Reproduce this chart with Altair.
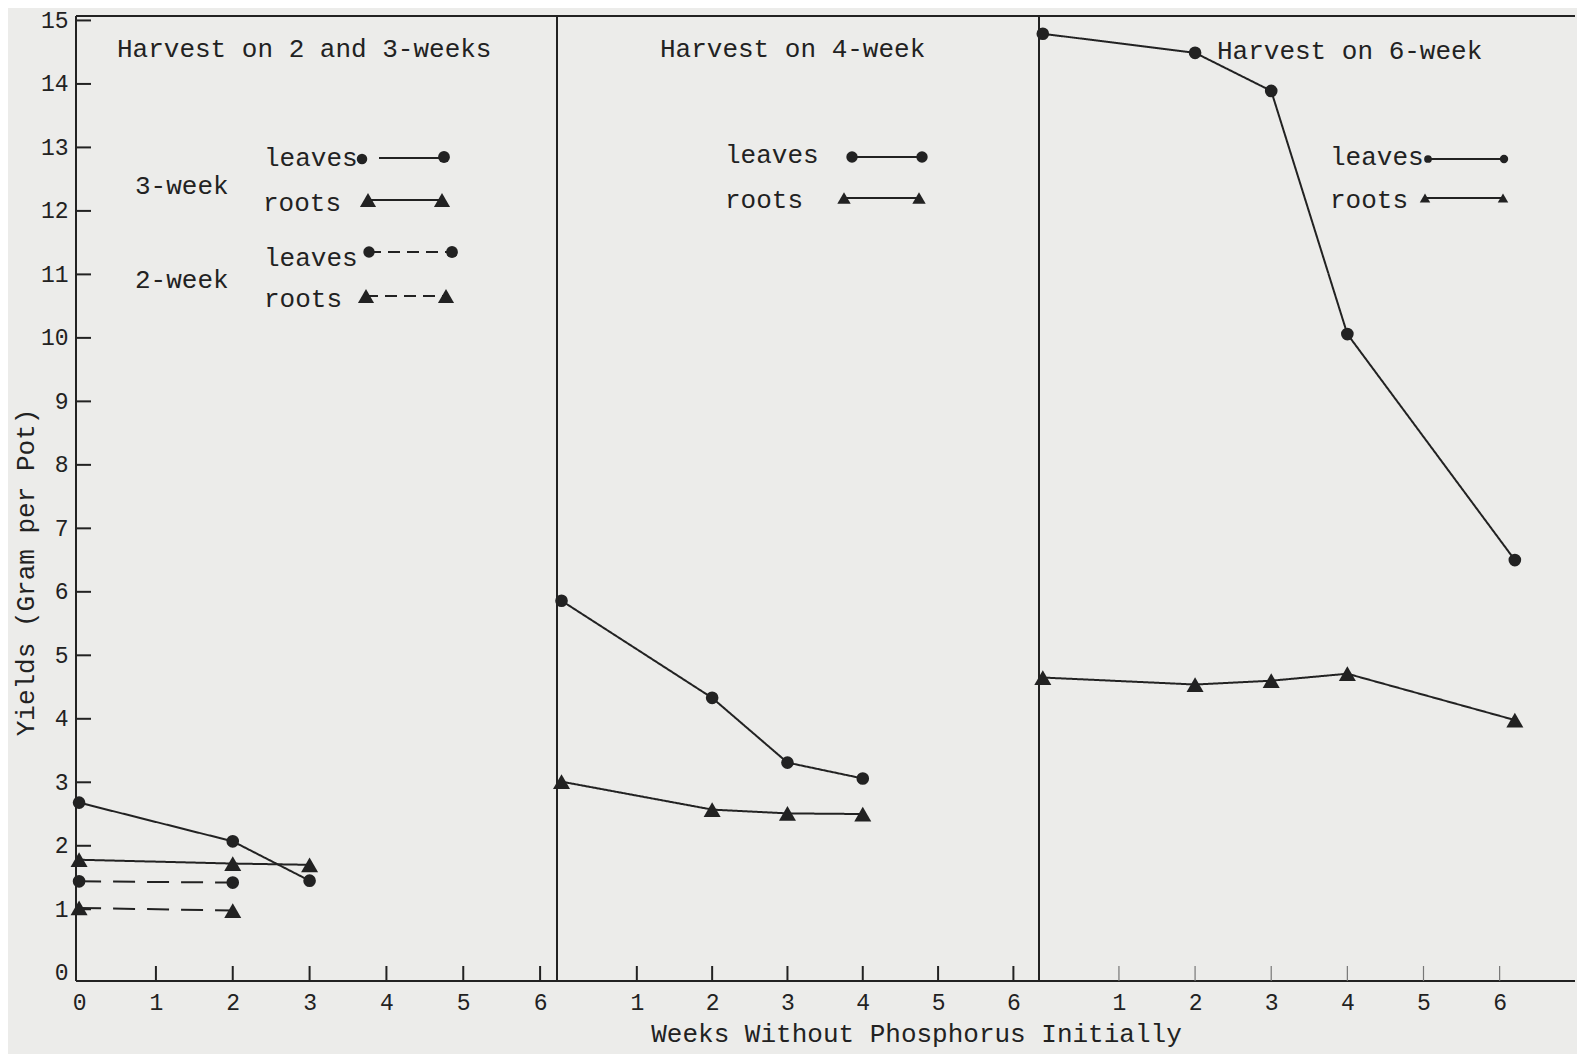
import altair as alt
import pandas as pd

# ---------------- data ----------------
# Panel 1: harvest on 2 and 3 weeks
weeks_3wk = [0, 2, 3]
leaves_3wk = [2.68, 2.07, 1.45]
roots_3wk = [1.78, 1.72, 1.70]
weeks_2wk = [0, 2]
leaves_2wk = [1.44, 1.42]
roots_2wk = [1.02, 0.98]
# Panel 2: harvest on 4 weeks
weeks_4wk = [0, 2, 3, 4]
leaves_4wk = [5.86, 4.33, 3.31, 3.06]
roots_4wk = [3.01, 2.57, 2.51, 2.50]
# Panel 3: harvest on 6 weeks
weeks_6wk = [0, 2, 3, 4, 6.2]
leaves_6wk = [14.79, 14.49, 13.89, 10.06, 6.50]
roots_6wk = [4.65, 4.54, 4.60, 4.71, 3.98]

y_ticks = list(range(0, 16))
x_labels_first = [0, 1, 2, 3, 4, 5, 6]
x_labels_other = [1, 2, 3, 4, 5, 6]

panel_titles = ["Harvest on 2 and 3-weeks", "Harvest on 4-week", "Harvest on 6-week"]
y_title = "Yields (Gram per Pot)"
x_title = "Weeks Without Phosphorus Initially"

# ---------------- style ----------------
INK = "#222222"
FONT = "Liberation Mono"
BG = "#ececea"
H = 965
YDOM = [-0.13, 15.07]


def series_df(weeks, values, part, style, name):
    return pd.DataFrame({"week": weeks, "yield": values, "part": part,
                         "style": style, "series": name})


def one():
    return alt.Data(values=[{"k": 1}])


def text(t, x, y, size=26, align="left"):
    return alt.Chart(one()).mark_text(text=t, align=align, baseline="middle", fontSize=size,
                                      font=FONT, color=INK).encode(x=alt.value(x), y=alt.value(y))


def sym(shape, x, y, size):
    return alt.Chart(one()).mark_point(shape=shape, filled=True, size=size, color=INK,
                                       opacity=1).encode(x=alt.value(x), y=alt.value(y))


def hline(x1, x2, y, dash=None, width=2.0):
    kw = {"strokeDash": dash} if dash else {}
    return alt.Chart(one()).mark_rule(color=INK, strokeWidth=width, **kw).encode(
        x=alt.value(x1), x2=alt.value(x2), y=alt.value(y))


def vline(x, y1, y2, width=2.0):
    return alt.Chart(one()).mark_rule(color=INK, strokeWidth=width).encode(
        x=alt.value(x), y=alt.value(y1), y2=alt.value(y2))


def panel(df, W, xdom, xlabels, first, title_layer, legend_layers, xtitle_kw, tick_color, tick_w):
    xscale = alt.Scale(domain=xdom, nice=False, zero=False)
    yscale = alt.Scale(domain=YDOM, nice=False, zero=False)
    xaxis_kw = dict(values=xlabels, domain=False, ticks=False, grid=False, labelFontSize=23,
                    labelPadding=10, labelColor=INK, labelFont=FONT, labelFlush=False,
                    labelOverlap=False, format="d")
    xaxis_kw.update(xtitle_kw)
    xaxis = alt.Axis(**xaxis_kw)
    if first:
        yaxis = alt.Axis(values=y_ticks, domain=False, ticks=False, grid=False, labelFontSize=23,
                         labelPadding=8, labelColor=INK, labelFont=FONT,
                         labelFlush=False, labelOverlap=False, format="d",
                         title=y_title, titleFont=FONT, titleFontSize=26, titleFontWeight="normal",
                         titleColor=INK, titleX=-51, titleY=556, titleAngle=270,
                         titleBaseline="middle", titleAlign="center")
    else:
        yaxis = None

    def X(field):
        return alt.X(field, type="quantitative", scale=xscale, axis=xaxis)

    def Y(field):
        if yaxis is None:
            return alt.Y(field, type="quantitative", scale=yscale, axis=None)
        return alt.Y(field, type="quantitative", scale=yscale, axis=yaxis)

    layers = []
    # frame
    layers.append(hline(0, W, 0))
    layers.append(hline(0, W, H))
    layers.append(vline(0, 0, H))
    # inward x ticks
    xt = pd.DataFrame({"xv": [v for v in xlabels if v != 0]})
    layers.append(alt.Chart(xt).mark_rule(color=tick_color, strokeWidth=tick_w).encode(
        x=X("xv"), y=alt.value(H), y2=alt.value(H - 15)))
    # inward y ticks
    if first:
        yt = pd.DataFrame({"yv": [v for v in y_ticks if v != 0]})
        layers.append(alt.Chart(yt).mark_rule(color=INK, strokeWidth=2).encode(
            y=Y("yv"), x=alt.value(0), x2=alt.value(15)))
    # data lines and points
    base = alt.Chart(df)
    layers.append(base.mark_line(color=INK, strokeWidth=2).encode(
        x=X("week"), y=Y("yield"), detail="series:N",
        strokeDash=alt.StrokeDash("style:N", scale=alt.Scale(domain=["solid", "dashed"],
                                                             range=[[1, 0], [22, 12]]), legend=None)))
    layers.append(base.mark_point(filled=True, color=INK, opacity=1).encode(
        x=X("week"), y=Y("yield"),
        shape=alt.Shape("part:N", scale=alt.Scale(domain=["leaves", "roots"],
                                                  range=["circle", "triangle-up"]), legend=None),
        size=alt.Size("part:N", scale=alt.Scale(domain=["leaves", "roots"], range=[160, 290]),
                      legend=None)))
    layers.append(title_layer)
    layers.extend(legend_layers)
    return alt.layer(*layers).properties(width=W, height=H)


# ---------------- panel 1 ----------------
df1 = pd.concat([
    series_df(weeks_3wk, leaves_3wk, "leaves", "solid", "3-week leaves"),
    series_df(weeks_3wk, roots_3wk, "roots", "solid", "3-week roots"),
    series_df(weeks_2wk, leaves_2wk, "leaves", "dashed", "2-week leaves"),
    series_df(weeks_2wk, roots_2wk, "roots", "dashed", "2-week roots"),
])
leg1 = [
    text("3-week", 59, 170), text("2-week", 59, 264),
    text("leaves", 188, 142), hline(303, 368, 142), sym("circle", 286, 143, 110), sym("circle", 368, 141, 140),
    text("roots", 187, 187), hline(292, 366, 184), sym("triangle-up", 292, 184, 260), sym("triangle-up", 366, 184, 260),
    text("leaves", 188, 242), hline(293, 376, 236, dash=[12, 7]), sym("circle", 293, 236, 130), sym("circle", 376, 236, 140),
    text("roots", 188, 283), hline(290, 370, 280, dash=[12, 7]), sym("triangle-up", 290, 280, 260), sym("triangle-up", 370, 280, 260),
]
p1 = panel(df1, 481, [-0.04, 6.22], x_labels_first, True,
           text(panel_titles[0], 41, 33), leg1, {"title": None}, INK, 2)

# ---------------- panel 2 ----------------
df2 = pd.concat([
    series_df(weeks_4wk, leaves_4wk, "leaves", "solid", "leaves"),
    series_df(weeks_4wk, roots_4wk, "roots", "solid", "roots"),
])
leg2 = [
    text("leaves", 168, 139), hline(295, 365, 141), sym("circle", 295, 141, 130), sym("circle", 365, 141, 130),
    text("roots", 168, 184), hline(287, 362, 182), sym("triangle-up", 287, 182, 180), sym("triangle-up", 362, 182, 180),
]
p2 = panel(df2, 482, [-0.06, 6.34], x_labels_other, False,
           text(panel_titles[1], 103, 33), leg2,
           {"title": x_title, "titleFont": FONT, "titleFontSize": 26, "titleFontWeight": "normal",
            "titleColor": INK, "titleX": 359, "titleY": 52, "titleBaseline": "middle",
            "titleAlign": "center"}, INK, 2)

# ---------------- panel 3 ----------------
df3 = pd.concat([
    series_df(weeks_6wk, leaves_6wk, "leaves", "solid", "leaves"),
    series_df(weeks_6wk, roots_6wk, "roots", "solid", "roots"),
])
leg3 = [
    text("leaves", 291, 141), hline(389, 465, 143), sym("circle", 389, 143, 60), sym("circle", 465, 143, 70),
    text("roots", 291, 184), hline(386, 464, 182), sym("triangle-up", 386, 182, 110), sym("triangle-up", 464, 182, 110),
]
p3 = panel(df3, 536, [-0.05, 6.99], x_labels_other, False,
           text(panel_titles[2], 178, 35), leg3, {"title": None}, "#777777", 1.2)

chart = alt.hconcat(p1, p2, p3, spacing=0, bounds="flush").properties(
    padding={"left": 3, "top": 0, "right": 0, "bottom": 8},
    background=BG,
).configure_view(stroke="transparent")

chart.save("out.html", embed_options={"renderer": "svg", "actions": False})
